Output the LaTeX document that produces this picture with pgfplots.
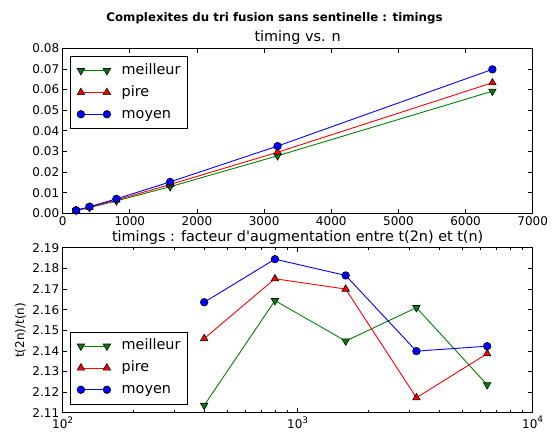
\documentclass[border=0pt]{standalone}
\usepackage{pgfplots}
\pgfplotsset{compat=1.18}
\usepackage{fontspec}
\setmainfont{DejaVu Sans}
\definecolor{mgreen}{rgb}{0,0.5,0}
\begin{document}
\begin{tikzpicture}
\pgfplotsset{
  every axis/.append style={
    scale only axis, width=470pt,
    axis line style={black, line width=0.9pt},
    tick align=inside, major tick length=4.5pt, minor tick length=2.5pt,
    every tick/.style={black, line width=0.8pt},
    tick label style={font=\fontsize{12}{14}\selectfont},
    /pgf/number format/assume math mode=true,
    title style={font=\fontsize{14.4}{16}\selectfont, at={(0.5,1)}, anchor=base, yshift=0.5pt},
    legend style={draw=black, line width=0.8pt, font=\fontsize{14.4}{16}\selectfont,
      inner xsep=6.7pt, inner ysep=7.5pt, row sep=8.3pt,
      nodes={inner sep=0pt, text height=10.5pt, text depth=3pt},
      /tikz/every odd column/.append style={column sep=11pt}},
    legend cell align=left,
    legend image code/.code={
      \draw[mark repeat=2,mark phase=1,#1] plot coordinates {(0pt,0pt) (13pt,0pt) (26pt,0pt)};},
  },
  mstyle/.style={mgreen, line width=0.9pt, mark=triangle*, mark size=4.3pt, mark options={rotate=180, fill=mgreen, draw=black, line width=0.6pt}},
  pstyle/.style={red, line width=0.9pt, mark=triangle*, mark size=4.3pt, mark options={fill=red, draw=black, line width=0.6pt}},
  ystyle/.style={blue, line width=0.9pt, mark=*, mark size=3.8pt, mark options={fill=blue, draw=black, line width=0.6pt}},
}
\begin{axis}[
  at={(0,0)}, height=165pt,
  xmin=0, xmax=7000, ymin=0, ymax=0.08,
  xtick={0,1000,...,7000}, ytick={0,0.01,...,0.08},
  x tick label style={/pgf/number format/set thousands separator={}},
  y tick label style={/pgf/number format/.cd, fixed, fixed zerofill, precision=2},
  scaled y ticks=false, scaled x ticks=false,
  title={timing vs. n},
  legend style={at={(0,1)}, anchor=north west, xshift=7.3pt, yshift=-7.7pt},
]
\addplot[mstyle] coordinates {(200,0.001315) (400,0.002779) (800,0.006015) (1600,0.01290) (3200,0.02788) (6400,0.0592)};
\addlegendentry{meilleur}
\addplot[pstyle] coordinates {(200,0.00138) (400,0.002962) (800,0.006442) (1600,0.01398) (3200,0.02960) (6400,0.0633)};
\addlegendentry{pire}
\addplot[ystyle] coordinates {(200,0.00148) (400,0.003203) (800,0.006997) (1600,0.01523) (3200,0.03259) (6400,0.0698)};
\addlegendentry{moyen}
\end{axis}
\begin{axis}[
  at={(0,-199.5pt)}, height=165pt,
  xmode=log, xmin=100, xmax=10000, ymin=2.11, ymax=2.19,
  xtick={100,1000,10000},
  xticklabels={10\raisebox{0.9ex}{\fontsize{9}{10}\selectfont 2},10\raisebox{0.9ex}{\fontsize{9}{10}\selectfont 3},10\raisebox{0.9ex}{\fontsize{9}{10}\selectfont 4}},
  minor xtick={200,300,400,500,600,700,800,900,2000,3000,4000,5000,6000,7000,8000,9000},
  ytick={2.11,2.12,...,2.19},
  y tick label style={/pgf/number format/.cd, fixed, fixed zerofill, precision=2},
  scaled y ticks=false,
  title={timings : facteur d\textquotesingle augmentation entre t(2n) et t(n)},
  ylabel={t(2n)/t(n)},
  ylabel style={font=\fontsize{12}{14}\selectfont},
  legend style={at={(0,0)}, anchor=south west, xshift=7.3pt, yshift=8.4pt},
]
\addplot[mstyle] coordinates {(400,2.1136) (800,2.1644) (1600,2.1448) (3200,2.1610) (6400,2.1236)};
\addlegendentry{meilleur}
\addplot[pstyle] coordinates {(400,2.1460) (800,2.1750) (1600,2.1700) (3200,2.1173) (6400,2.1387)};
\addlegendentry{pire}
\addplot[ystyle] coordinates {(400,2.1636) (800,2.1845) (1600,2.1766) (3200,2.1399) (6400,2.1423)};
\addlegendentry{moyen}
\end{axis}
\node[font=\bfseries\fontsize{11.8}{14}\selectfont] at (211.8pt,195.5pt) {Complexites du tri fusion sans sentinelle : timings};
\path (-62.7pt,-217.7pt) rectangle (491.3pt,213.3pt);
\end{tikzpicture}
\end{document}
